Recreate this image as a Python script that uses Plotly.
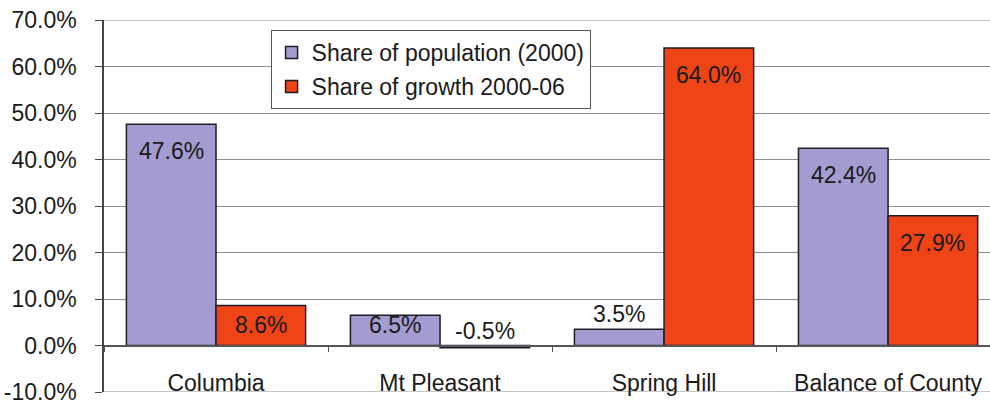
import plotly.graph_objects as go

categories = ["Columbia", "Mt Pleasant", "Spring Hill", "Balance of County"]
pop_share = [47.6, 6.5, 3.5, 42.4]
growth_share = [8.6, -0.5, 64.0, 27.9]
series_names = ["Share of population (2000)", "Share of growth 2000-06"]
y_ticks = [-10, 0, 10, 20, 30, 40, 50, 60, 70]

PURPLE = "#A39CD0"
ORANGE = "#EE4416"
EDGE = "#1c1c2a"
FONT = "Liberation Sans, Arial, sans-serif"
TXT = "#1a1a1a"
GRID = "#8f8f8f"

fig = go.Figure()
fig.add_trace(go.Bar(x=categories, y=pop_share, name=series_names[0],
                     marker=dict(color=PURPLE, line=dict(color=EDGE, width=1.5)),
                     legendgroup="a"))
fig.add_trace(go.Bar(x=categories, y=growth_share, name=series_names[1],
                     marker=dict(color=ORANGE, line=dict(color=EDGE, width=1.5)),
                     legendgroup="b"))

# data labels, placed like Excel "inside end"
bar_w = 0.4
for s, vals in enumerate([pop_share, growth_share]):
    for i, v in enumerate(vals):
        xc = i + (s - 0.5) * bar_w
        if v < 5:
            fig.add_annotation(x=xc, y=max(v, 0), xref="x", yref="y", text=f"{v:.1f}%",
                               showarrow=False, yanchor="bottom", yshift=0,
                               font=dict(family=FONT, size=23, color=TXT))
        else:
            yc = max(v - 5.8, 4.5)
            fig.add_annotation(x=xc, y=yc, xref="x", yref="y", text=f"{v:.1f}%",
                               showarrow=False, yanchor="middle",
                               font=dict(family=FONT, size=23, color=TXT))

# gridlines at the two ends of the value axis
for yv in (y_ticks[0], y_ticks[-1]):
    fig.add_shape(type="line", xref="paper", yref="y", x0=0, x1=1, y0=yv, y1=yv,
                  line=dict(color=GRID, width=1), layer="below")

fig.update_layout(
    width=990, height=404,
    margin=dict(l=104, r=0, t=20, b=12),
    paper_bgcolor="white", plot_bgcolor="white",
    barmode="group", bargap=0.2, bargroupgap=0,
    font=dict(family=FONT, size=23, color=TXT),
    showlegend=True,
    legend=dict(x=0.188, y=0.973, xanchor="left", yanchor="top",
                bgcolor="white", bordercolor="#555", borderwidth=1,
                font=dict(family=FONT, size=23, color=TXT),
                tracegroupgap=1, itemwidth=30),
    xaxis=dict(type="category", range=[-0.5, 3.455], anchor="free", position=0.125,
               showline=True, linecolor="#555", linewidth=1.5,
               ticks="outside", tickson="boundaries", ticklen=6, tickcolor="#555",
               tickfont=dict(family=FONT, size=23, color=TXT),
               ticklabelstandoff=17, showgrid=False, automargin=False),
    yaxis=dict(range=[-10, 70], tickvals=y_ticks,
               ticktext=[f"{t:.1f}%" for t in y_ticks],
               showline=True, linecolor="#444", linewidth=1.5,
               ticks="outside", ticklen=7, tickcolor="#444",
               ticklabelstandoff=14, ticklabeloverflow="allow",
               showgrid=True, gridcolor=GRID, gridwidth=1,
               zeroline=False, automargin=False,
               tickfont=dict(family=FONT, size=23, color=TXT)),
)

fig.write_html("out.html", config={"displayModeBar": False},
               post_script="document.body.style.margin='0';document.body.style.overflow='hidden';")
